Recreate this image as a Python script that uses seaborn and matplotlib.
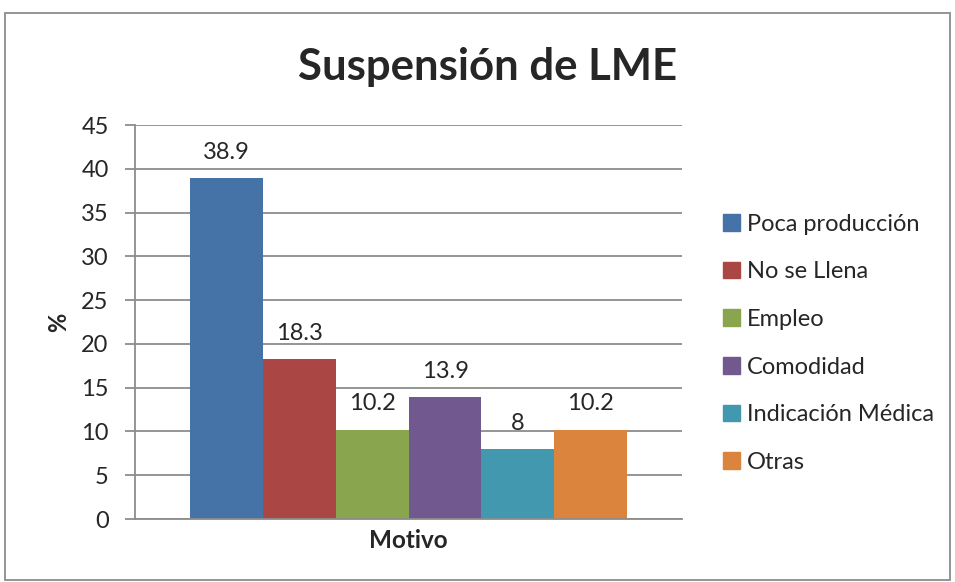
import matplotlib
matplotlib.use("Agg")
import matplotlib.pyplot as plt
import matplotlib.patches as mpatches
import pandas as pd
import seaborn as sns

# ======================================================
# DATA
# ======================================================
MOTIVOS = ["Poca producción", "No se Llena", "Empleo", "Comodidad",
           "Indicación Médica", "Otras"]
PORCENTAJES = [38.9, 18.3, 10.2, 13.9, 8, 10.2]
COLORES = ["#4572A7", "#AA4643", "#89A54E", "#71588F", "#4198AF", "#DB843D"]
Y_TICKS = [0, 5, 10, 15, 20, 25, 30, 35, 40, 45]

# ======================================================
# PLOT
# ======================================================
sns.set_style("white")
plt.rcParams["font.family"] = ["Lato", "DejaVu Sans"]

df = pd.DataFrame({"Eje": ["Motivo"] * len(MOTIVOS),
                   "Motivo": MOTIVOS,
                   "Pct": PORCENTAJES})

fig = plt.figure(figsize=(9.55, 5.82), dpi=100)
ax = fig.add_axes([0.1414, 0.1082, 0.5728, 0.677])

sns.barplot(data=df, x="Eje", y="Pct", hue="Motivo", hue_order=MOTIVOS,
            palette=dict(zip(MOTIVOS, COLORES)), width=0.8, gap=0,
            saturation=1, linewidth=0, legend=False, ax=ax)

for cont in ax.containers:
    ax.bar_label(cont, fmt="%g", padding=11, fontsize=17)

ax.set_ylim(0, 45)
ax.set_yticks(Y_TICKS)
ax.yaxis.grid(True, color="#8c8c8c", linewidth=1.3)
ax.set_axisbelow(True)
ax.tick_params(axis="y", labelsize=17, length=7, width=1.3, color="#8c8c8c",
               direction="out", pad=12, left=True)
ax.set_xticks([])
ax.set_xlabel("Motivo", fontsize=17.5, fontweight="bold", labelpad=7)
ax.set_ylabel("%", fontsize=17, fontweight="bold", labelpad=8)
for s in ["top", "right"]:
    ax.spines[s].set_visible(False)
for s in ["left", "bottom"]:
    ax.spines[s].set_color("#8c8c8c")
    ax.spines[s].set_linewidth(1.3)

handles = [mpatches.Patch(color=c, label=m) for m, c in zip(MOTIVOS, COLORES)]
fig.legend(handles=handles, loc="upper left", bbox_to_anchor=(0.757, 0.633),
           frameon=False, fontsize=17, handlelength=0.72, handleheight=0.72,
           handletextpad=0.3, labelspacing=1.13, borderaxespad=0, borderpad=0)

fig.text(0.511, 1 - 80 / 582, "Suspensión de LME", ha="center",
         va="baseline", fontsize=31.5, fontweight="bold")

fig.patches.append(mpatches.Rectangle((5 / 955, 0.004), 0.99, 0.974,
                                      transform=fig.transFigure, fill=False,
                                      edgecolor="#8c8c8c", linewidth=1.3))

fig.savefig("out.png", dpi=100)
